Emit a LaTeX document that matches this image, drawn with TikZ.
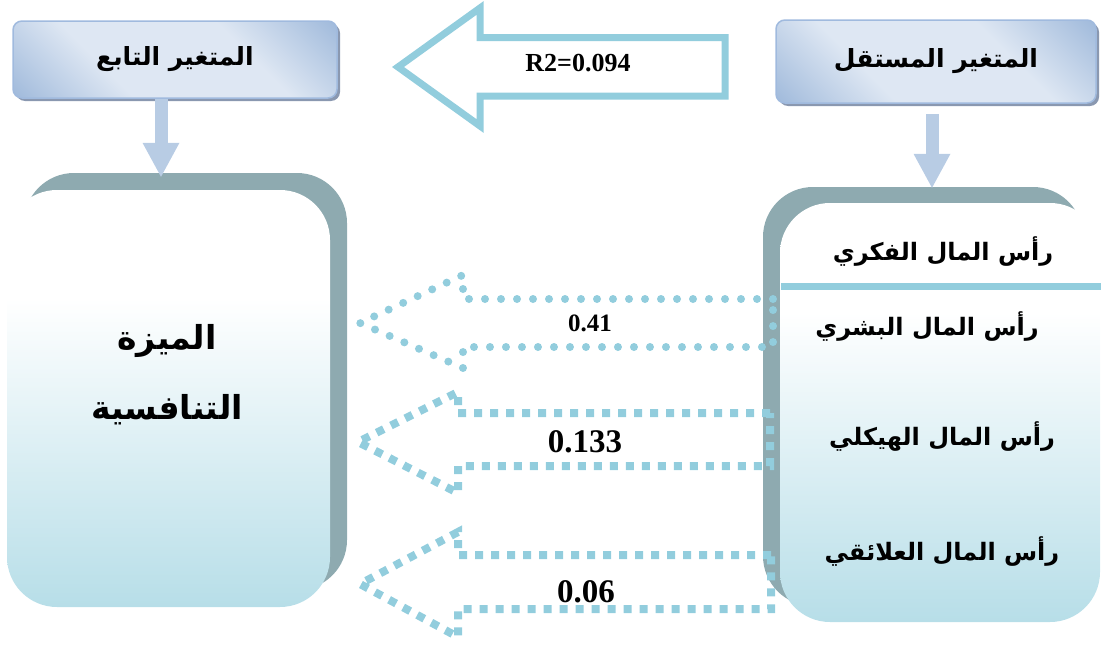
\documentclass[tikz,border=0pt]{standalone}
\usepackage{fontspec}
\setmainfont{Liberation Serif}
\newfontfamily\arabicfont[Script=Arabic]{DejaVu Sans}
\TeXXeTstate=1
\usetikzlibrary{shapes,arrows.meta,positioning,shadows}

\definecolor{aqua}{RGB}{146,205,221}
\definecolor{hdrdark}{RGB}{152,180,216}
\definecolor{hdrlight}{RGB}{222,231,243}
\definecolor{hdrline}{RGB}{160,186,222}
\definecolor{hdrshadow}{RGB}{138,152,176}
\definecolor{panelblue}{RGB}{183,222,232}
\definecolor{panelshadow}{RGB}{142,170,176}
\definecolor{downblue}{RGB}{184,204,228}

\pgfdeclarehorizontalshading{hdrshade}{100bp}{color(0bp)=(hdrdark); color(12bp)=(hdrdark); color(36bp)=(hdrlight); color(64bp)=(hdrlight); color(88bp)=(hdrdark); color(100bp)=(hdrdark)}
\pgfdeclareverticalshading{panelshade}{100bp}{color(0bp)=(panelblue); color(25bp)=(panelblue); color(62bp)=(white); color(100bp)=(white)}

\begin{document}
\begin{tikzpicture}[x=1pt, y=-1pt]
  \tikzset{
    header/.style={draw=hdrline, line width=1.5pt, rounded corners=9pt,
      shading=hdrshade, shading angle=45, inner sep=0pt,
      font=\arabicfont\bfseries\fontsize{25}{30}\selectfont,
      drop shadow={shadow xshift=3pt, shadow yshift=-3pt, fill=hdrshadow, opacity=1}},
    panel/.style={rounded corners=50pt, shading=panelshade, inner sep=0pt},
    item/.style={font=\arabicfont\bfseries\fontsize{24}{28}\selectfont},
    bigtext/.style={font=\arabicfont\bfseries\fontsize{33}{70}\selectfont, align=center},
    downarrow/.style={-{Triangle[length=34pt,width=37pt,line width=0pt]}, line width=13pt, draw=downblue},
    hollow/.style={draw=aqua, line width=7pt, fill=white},
    rounddots/.style={draw=aqua, line width=8pt, line cap=round, dash pattern=on 0pt off 16pt},
    squaredots/.style={draw=aqua, line width=8pt, dash pattern=on 8pt off 8pt},
    value/.style={font=\bfseries\fontsize{33}{36}\selectfont},
  }
  \useasboundingbox (0,0) rectangle (1103,645);

  % headers
  \node[header, minimum width=324pt, minimum height=77pt] (dep) at (175,59.5)
    {\beginR المتغير التابع\endR};
  \node[header, minimum width=320pt, minimum height=83pt] (indep) at (936,61.5)
    {\beginR المتغير المستقل\endR};

  % panels
  \node[panel, minimum width=323pt, minimum height=417pt,
    general shadow={shadow xshift=17pt, shadow yshift=17pt, fill=panelshadow}] (dv) at (168.5,398.5) {};
  \node[panel, minimum width=320pt, minimum height=419pt,
    general shadow={shadow xshift=-17pt, shadow yshift=16pt, fill=panelshadow}] (iv) at (940,412.5) {};

  \draw[downarrow] ([xshift=-14pt]dep.south) -- ([xshift=-7.5pt,yshift=13pt]dv.north);
  \draw[downarrow] ([xshift=-4pt,yshift=-10pt]indep.south) -- ([xshift=-8pt,yshift=15pt]iv.north);

  \node[bigtext] (adv) at (167,375) {\beginR الميزة\endR\\\beginR التنافسية\endR};

  \coordinate (sepl) at (781,286);
  \coordinate (sepr) at (1101,286);
  \draw[draw=aqua, line width=7pt] (sepl) -- (sepr);

  \node[item] (fikri) at (943,252) {\beginR رأس المال الفكري\endR};
  \node[item] (bashari) at (927,327) {\beginR رأس المال البشري\endR};
  \node[item] (haykali) at (942,437) {\beginR رأس المال الهيكلي\endR};
  \node[item] (alaiqi) at (942,552) {\beginR رأس المال العلائقي\endR};

  % R2 arrow
  \draw[hollow, miter limit=10] (725,37.5) -- (480,37.5) -- (480,8) -- (398,67)
    -- (480,126) -- (480,96) -- (725,96) -- cycle;
  \node[value, font=\bfseries\fontsize{26}{30}\selectfont] (r2) at (578,63) {R2=0.094};

  % dotted arrows
  \node[value, font=\bfseries\fontsize{25}{30}\selectfont] (b1) at (590,323) {0.41};
  \node[value] (b2) at (585,442) {0.133};
  \node[value] (b3) at (586,592) {0.06};
  \draw[rounddots] (773,299) -- (463,299) -- (463,275) -- (360,323)
    -- (463,368) -- (463,347) -- (773,347) -- cycle;
  \draw[squaredots] (770,413) -- (458,413) -- (458,392) -- (358,442)
    -- (458,493) -- (458,466) -- (770,466) -- cycle;
  \draw[squaredots] (771,555) -- (458,555) -- (458,532) -- (360,584)
    -- (458,637) -- (458,609) -- (771,609) -- cycle;
\end{tikzpicture}
\end{document}
